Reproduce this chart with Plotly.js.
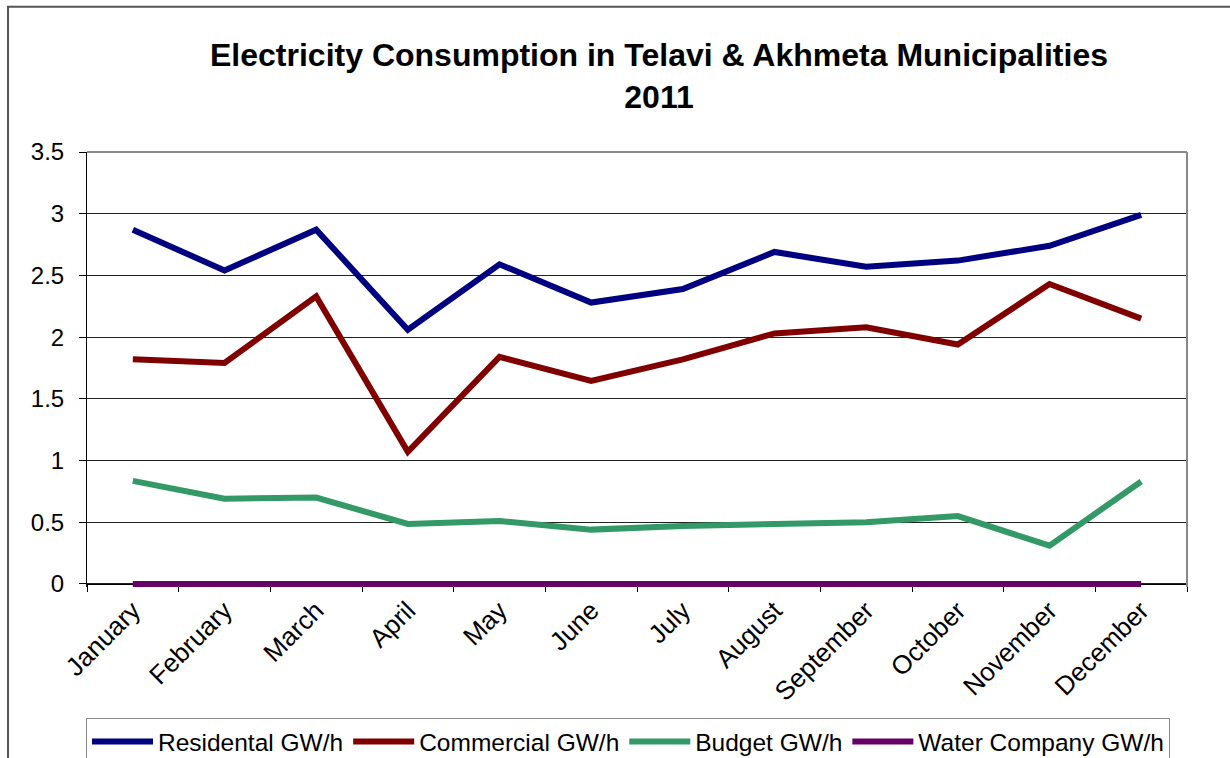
<!DOCTYPE html>
<html>
<head>
<meta charset="utf-8">
<script src="https://cdn.plot.ly/plotly-3.0.1.min.js"></script>
<style>html,body{margin:0;padding:0;background:#fff;}#chart{width:1230px;height:758px;}</style>
</head>
<body>
<div id="chart"></div>
<script>
const months = ["January","February","March","April","May","June","July","August","September","October","November","December"];
const residential = [2.87, 2.54, 2.87, 2.06, 2.59, 2.28, 2.39, 2.69, 2.57, 2.62, 2.74, 2.99];
const commercial = [1.82, 1.79, 2.33, 1.07, 1.84, 1.645, 1.82, 2.03, 2.08, 1.94, 2.43, 2.15];
const budget = [0.835, 0.69, 0.70, 0.486, 0.51, 0.44, 0.47, 0.48, 0.50, 0.55, 0.31, 0.83];
const water = [0, 0, 0, 0, 0, 0, 0, 0, 0, 0, 0, 0];
const seriesNames = ["Residental GW/h", "Commercial GW/h", "Budget GW/h", "Water Company GW/h"];
const seriesColors = ["#000080", "#800000", "#339966", "#660066"];

const FONT = "Arial, 'Liberation Sans', sans-serif";
const allSeries = [residential, commercial, budget, water];
const traces = allSeries.map((vals, i) => ({
  type: "scatter",
  mode: "lines",
  x: months,
  y: vals,
  name: seriesNames[i],
  line: {color: seriesColors[i], width: 6},
  cliponaxis: false,
  hoverinfo: "x+y+name"
}));

const yMin = -0.025, yMax = 3.5;

const layout = {
  width: 1230,
  height: 758,
  margin: {l: 87, r: 43, t: 152, b: 171},
  paper_bgcolor: "#ffffff",
  plot_bgcolor: "#ffffff",
  font: {family: FONT, color: "#000", size: 24},
  title: {
    text: "Electricity Consumption in Telavi & Akhmeta Municipalities<br>2011",
    font: {family: FONT, size: 32, color: "#000", weight: "bold"},
    xref: "paper", x: 0.52, xanchor: "center",
    yref: "container", y: 1 - 66 / 758, yanchor: "middle"
  },
  xaxis: {
    type: "category",
    range: [-0.5, 11.5],
    anchor: "free",
    position: (0 - yMin) / (yMax - yMin),
    automargin: false,
    tickson: "boundaries",
    ticks: "outside",
    ticklen: 7,
    tickcolor: "#000",
    tickangle: -45,
    showline: true,
    linecolor: "#000",
    linewidth: 1,
    showgrid: false,
    zeroline: false,
    layer: "below traces",
    tickfont: {family: FONT, size: 26, color: "#000"}
  },
  yaxis: {
    range: [yMin, yMax],
    tickmode: "linear",
    dtick: 0.5,
    tick0: 0,
    automargin: false,
    ticks: "outside",
    ticklen: 7,
    tickcolor: "#000",
    ticklabelstandoff: 10,
    showline: true,
    linecolor: "#000",
    linewidth: 1,
    showgrid: true,
    gridcolor: "#222",
    gridwidth: 1,
    zeroline: false,
    layer: "below traces",
    tickfont: {family: FONT, size: 24, color: "#000"}
  },
  showlegend: true,
  legend: {
    orientation: "h",
    xref: "paper", x: 0.4918, xanchor: "center",
    yref: "container", y: 1 - 718 / 758, yanchor: "top",
    itemwidth: 61,
    bordercolor: "#888",
    borderwidth: 1,
    bgcolor: "#fff",
    font: {family: FONT, size: 24.5, color: "#000"},
    traceorder: "normal"
  },
  shapes: [
    {type: "line", xref: "paper", yref: "paper", x0: 0, x1: 1, y0: 1, y1: 1, line: {color: "#888", width: 2}},
    {type: "line", xref: "paper", yref: "paper", x0: 1, x1: 1, y0: 0, y1: 1, line: {color: "#888", width: 2}},
    {type: "rect", xref: "paper", yref: "paper", x0: -0.0718, x1: 1.06, y0: -0.45, y1: 1.334, line: {color: "#555", width: 2}, fillcolor: "rgba(0,0,0,0)", layer: "below"}
  ]
};

Plotly.newPlot("chart", traces, layout, {displayModeBar: false, staticPlot: true});
</script>
</body>
</html>
